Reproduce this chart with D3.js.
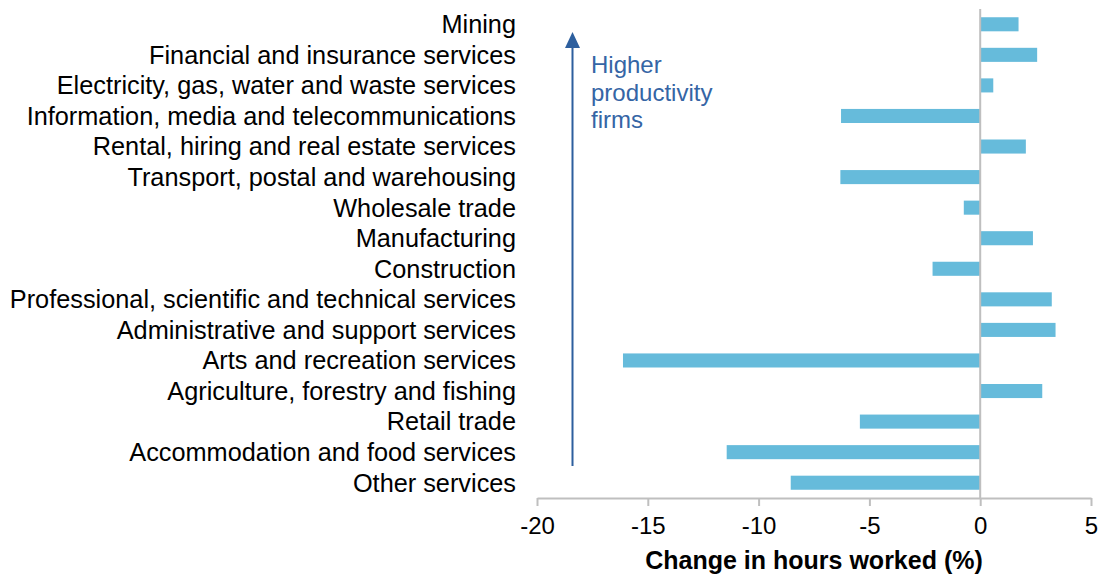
<!DOCTYPE html>
<html>
<head>
<meta charset="utf-8">
<script src="https://cdn.jsdelivr.net/npm/d3@7"></script>
<style>
  body { margin: 0; background: #fff; }
  svg { display: block; font-family: "Liberation Sans", Arial, sans-serif; }
</style>
</head>
<body>
<div id="chart"></div>
<script>
// industries, top to bottom
var industries = [
  "Mining",
  "Financial and insurance services",
  "Electricity, gas, water and waste services",
  "Information, media and telecommunications",
  "Rental, hiring and real estate services",
  "Transport, postal and warehousing",
  "Wholesale trade",
  "Manufacturing",
  "Construction",
  "Professional, scientific and technical services",
  "Administrative and support services",
  "Arts and recreation services",
  "Agriculture, forestry and fishing",
  "Retail trade",
  "Accommodation and food services",
  "Other services"
];
// change in hours worked (%)
var hoursChange = [1.73, 2.57, 0.59, -6.28, 2.06, -6.31, -0.74, 2.38,
  -2.15, 3.23, 3.40, -16.12, 2.80, -5.43, -11.44, -8.55];
var xTicks = [-20, -15, -10, -5, 0, 5];
var xTitle = "Change in hours worked (%)";
var noteLines = ["Higher", "productivity", "firms"];

var W = 1098, H = 575;
var margin = {left: 537, right: 7, top: 9, bottom: 77};
var svg = d3.select("#chart").append("svg").attr("width", W).attr("height", H);

var x = d3.scaleLinear().domain([-20, 5]).range([margin.left, W - margin.right]);
var y = d3.scaleBand().domain(industries)
  .range([margin.top, H - margin.bottom]).paddingInner(0.54).paddingOuter(0.27);
var axisY = H - margin.bottom;

// bars
svg.append("g").selectAll("rect")
  .data(industries)
  .join("rect")
  .attr("x", (d, i) => x(Math.min(0, hoursChange[i])))
  .attr("width", (d, i) => Math.abs(x(hoursChange[i]) - x(0)))
  .attr("y", d => y(d))
  .attr("height", y.bandwidth())
  .attr("fill", "#66bbdb");

// zero line
svg.append("line")
  .attr("x1", x(0)).attr("x2", x(0))
  .attr("y1", margin.top).attr("y2", axisY)
  .attr("stroke", "#bfbfbf").attr("stroke-width", 2);

// x axis
var xAxisG = svg.append("g").attr("transform", `translate(0,${axisY})`)
  .call(d3.axisBottom(x).tickValues(xTicks).tickFormat(d => String(d))
    .tickSize(8).tickSizeOuter(0).tickPadding(11));
xAxisG.select(".domain").attr("stroke", "#bfbfbf").attr("stroke-width", 2);
xAxisG.selectAll(".tick line").attr("stroke", "#bfbfbf").attr("stroke-width", 2);
xAxisG.selectAll(".tick text")
  .attr("font-size", 24).attr("fill", "#000")
  .style("font-family", '"Liberation Sans", Arial, sans-serif');

svg.append("text")
  .attr("x", x(-7.5)).attr("y", 569)
  .attr("text-anchor", "middle")
  .attr("font-size", 25).attr("font-weight", "bold")
  .text(xTitle);

// category labels
svg.append("g").selectAll("text")
  .data(industries)
  .join("text")
  .attr("x", 516)
  .attr("y", d => y(d) + y.bandwidth() / 2)
  .attr("dy", "0.35em")
  .attr("text-anchor", "end")
  .attr("font-size", 25.3)
  .attr("fill", "#000")
  .text(d => d);

// arrow annotation
var arrowColor = "#2d5f9e";
svg.append("line")
  .attr("x1", 572.5).attr("x2", 572.5)
  .attr("y1", 466).attr("y2", 44)
  .attr("stroke", arrowColor).attr("stroke-width", 2);
svg.append("path")
  .attr("d", "M572.5,32 L565,48 L580,48 Z")
  .attr("fill", arrowColor);

svg.append("g").selectAll("text")
  .data(noteLines)
  .join("text")
  .attr("x", 591)
  .attr("y", (d, i) => 73 + i * 27.5)
  .attr("font-size", 24)
  .attr("fill", "#3565a5")
  .text(d => d);
</script>
</body>
</html>
